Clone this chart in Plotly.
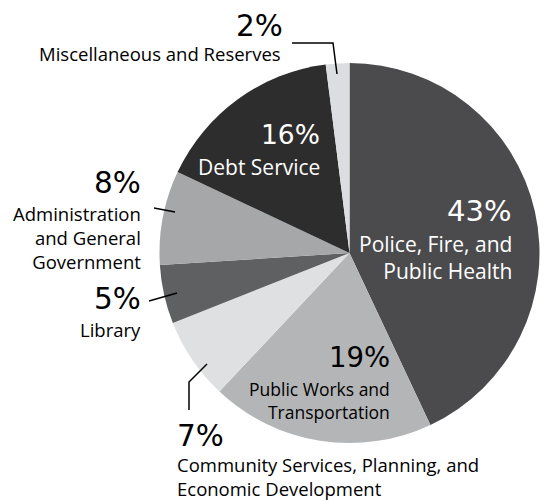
import plotly.graph_objects as go

categories = ["Police, Fire, and Public Health", "Public Works and Transportation",
              "Community Services, Planning, and Economic Development", "Library",
              "Administration and General Government", "Debt Service",
              "Miscellaneous and Reserves"]
values = [43, 19, 7, 5, 8, 16, 2]
pct_labels = ["43%", "19%", "7%", "5%", "8%", "16%", "2%"]
name_labels = ["Police, Fire, and<br>Public Health", "Public Works and<br>Transportation",
               "Community Services, Planning, and<br>Economic Development", "Library",
               "Administration<br>and General<br>Government", "Debt Service",
               "Miscellaneous and Reserves"]
colors = ["#4b4b4d", "#b4b5b7", "#dfe0e2", "#5f6062", "#a6a7a9", "#2d2d2d", "#dcdde0"]

W, H = 546, 500

fig = go.Figure(go.Pie(
    labels=categories, values=values, sort=False, direction="clockwise", rotation=0,
    marker=dict(colors=colors, line=dict(width=0)),
    textinfo="none", hoverinfo="skip", showlegend=False,
    domain=dict(x=[(349.5 - 190) / W, (349.5 + 190) / W], y=[57 / H, 437 / H]),
))

NUM_FONT = "DejaVu Sans"
TXT_FONT = "Open Sans"

# label layout: (index, pct x, pct y, pct size, name x, name y, name size, anchor, color)
label_pos = [
    (0, 513, 211, 29, 514, 257, 21, "right", "white"),
    (1, 392, 357, 27.5, 392, 400, 17.5, "right", "black"),
    (2, 175, 436, 29.5, 175, 476, 18.5, "left", "black"),
    (3, 143, 299, 29.5, 143, 329, 18.5, "right", "black"),
    (4, 143, 183, 29.5, 143, 237, 18.5, "right", "black"),
    (5, 322, 134, 26.5, 322, 167, 21, "right", "white"),
    (6, 285, 26, 29.5, 283, 54, 18.5, "right", "black"),
]

ann = []
for i, px, py, ps, nx, ny, ns, anc, col in label_pos:
    ann.append(dict(x=px / W, y=1 - py / H, xref="paper", yref="paper", text=pct_labels[i],
                    showarrow=False, xanchor=anc, yanchor="middle", align=anc,
                    font=dict(family=NUM_FONT, size=ps, color=col)))
    ann.append(dict(x=nx / W, y=1 - ny / H, xref="paper", yref="paper", text=name_labels[i],
                    showarrow=False, xanchor=anc, yanchor="middle", align=anc,
                    font=dict(family=TXT_FONT, size=ns, color=col)))

def P(x, y):
    return f"{x / W},{1 - y / H}"

leaders = [
    [(292, 43), (333, 43), (337, 74)],
    [(154, 208), (175, 212)],
    [(149, 301), (177, 293)],
    [(189, 410), (189, 382), (207, 364)],
]
shapes = []
for pts in leaders:
    path = "M " + " L ".join(P(x, y) for x, y in pts)
    shapes.append(dict(type="path", xref="paper", yref="paper", path=path,
                       line=dict(color="black", width=1.5)))

fig.update_layout(width=W, height=H, margin=dict(l=0, r=0, t=0, b=0),
                  paper_bgcolor="white", plot_bgcolor="white",
                  annotations=ann, shapes=shapes)

fig.write_html("out.html", config={"displayModeBar": False},
               post_script="document.body.style.margin='0';document.body.style.overflow='hidden';")
